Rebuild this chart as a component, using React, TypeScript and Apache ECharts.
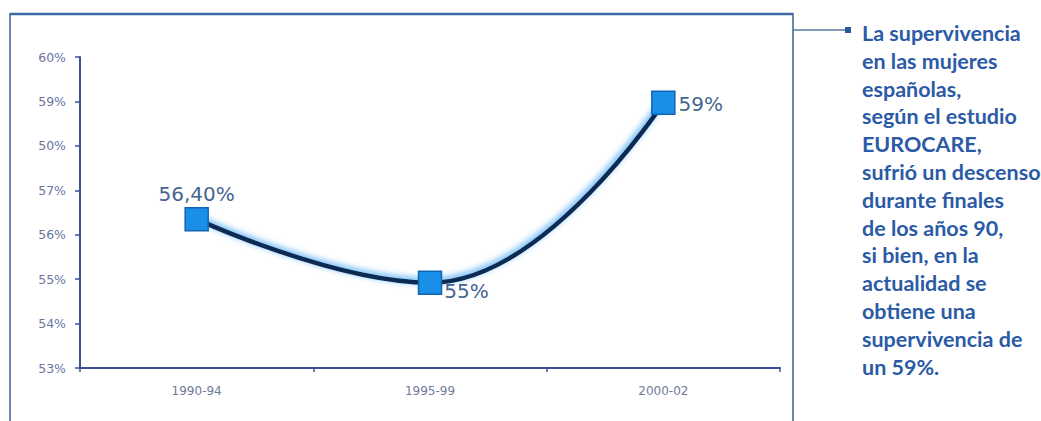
import React, { useEffect, useRef } from "react";
import * as echarts from "echarts";

const categories = ["1990-94", "1995-99", "2000-02"];
const survival = [56.35, 54.92, 58.97];
const pointLabels = ["56,40%", "55%", "59%"];
const yTickValues = [53, 54, 55, 56, 57, 58, 59, 60];
const yTickLabels = ["53%", "54%", "55%", "56%", "57%", "50%", "59%", "60%"];
const noteLines = [
  "La supervivencia",
  "en las mujeres",
  "españolas,",
  "según el estudio",
  "EUROCARE,",
  "sufrió un descenso",
  "durante finales",
  "de los años 90,",
  "si bien, en la",
  "actualidad se",
  "obtiene una",
  "supervivencia de",
  "un 59%.",
];

export default function App() {
  const ref = useRef<HTMLDivElement>(null);
  useEffect(() => {
    if (!ref.current) return;
    const chart = echarts.init(ref.current, null, { renderer: "svg" });
    const labelPos = [
      { position: "top", distance: 3, offset: [0, 0] },
      { position: "right", distance: 2, offset: [0, 8] },
      { position: "right", distance: 3, offset: [0, 1] },
    ];
    chart.setOption({
      animation: false,
      backgroundColor: "#ffffff",
      grid: { left: 80, right: 261, top: 57, bottom: 53, containLabel: false },
      xAxis: {
        type: "category",
        data: categories,
        boundaryGap: true,
        axisLine: { lineStyle: { color: "#3b4f9a", width: 2 } },
        axisTick: { show: true, length: 4, lineStyle: { color: "#3b4f9a", width: 1.5 } },
        axisLabel: {
          color: "#707a9a",
          fontFamily: "DejaVu Sans",
          fontSize: 12,
          margin: 17,
        },
        splitLine: { show: false },
      },
      yAxis: {
        type: "value",
        min: 53,
        max: 60,
        interval: 1,
        axisLine: { show: true, lineStyle: { color: "#3b4f9a", width: 2 } },
        axisTick: { show: true, length: 5, lineStyle: { color: "#3b4f9a", width: 1.5 } },
        axisLabel: {
          color: "#6a76a0",
          fontFamily: "DejaVu Sans",
          fontSize: 12.5,
          margin: 14,
          formatter: (v: number) => {
            const i = yTickValues.indexOf(Math.round(v));
            return i >= 0 ? yTickLabels[i] : "";
          },
        },
        splitLine: { show: false },
      },
      series: [
        {
          type: "line",
          data: survival.map((v, i) => ({
            value: v,
            label: {
              show: true,
              formatter: pointLabels[i],
              position: labelPos[i].position,
              distance: labelPos[i].distance,
              offset: labelPos[i].offset,
            },
          })),
          smooth: 0.45,
          symbol: "rect",
          symbolSize: 23,
          lineStyle: {
            color: "#0c2a52",
            width: 4.5,
            shadowColor: "rgba(40,150,240,0.9)",
            shadowBlur: 6,
            shadowOffsetX: -1,
            shadowOffsetY: -2,
          },
          itemStyle: {
            color: "#1a8fe8",
            borderColor: "#1464b4",
            borderWidth: 1.5,
          },
          label: {
            color: "#45658f",
            fontFamily: "DejaVu Sans",
            fontSize: 20,
          },
          z: 3,
        },
      ],
      graphic: [
        {
          type: "rect",
          shape: { x: 10, y: 14, width: 783, height: 440 },
          style: { fill: "none", stroke: "#6d88ad", lineWidth: 2 },
          z: 0,
        },
        {
          type: "line",
          shape: { x1: 10, y1: 14, x2: 793, y2: 14 },
          style: { stroke: "#3e6aa6", lineWidth: 2.5 },
          z: 1,
        },
        {
          type: "line",
          shape: { x1: 793, y1: 30, x2: 845, y2: 30 },
          style: { stroke: "#5a78a2", lineWidth: 1.5 },
        },
        {
          type: "rect",
          shape: { x: 845, y: 27, width: 6, height: 6 },
          style: { fill: "#2a5aa0" },
        },
        {
          type: "text",
          x: 862,
          y: 19,
          style: {
            text: noteLines.join("\n"),
            fill: "#2b5aa6",
            font: "bold 21.5px Lato",
            lineHeight: 27.8,
            textVerticalAlign: "top",
          },
        },
      ],
    });
    return () => chart.dispose();
  }, []);
  return (
    <div
      ref={ref}
      style={{ position: "absolute", left: 0, top: 0, width: 1041, height: 421 }}
    />
  );
}
